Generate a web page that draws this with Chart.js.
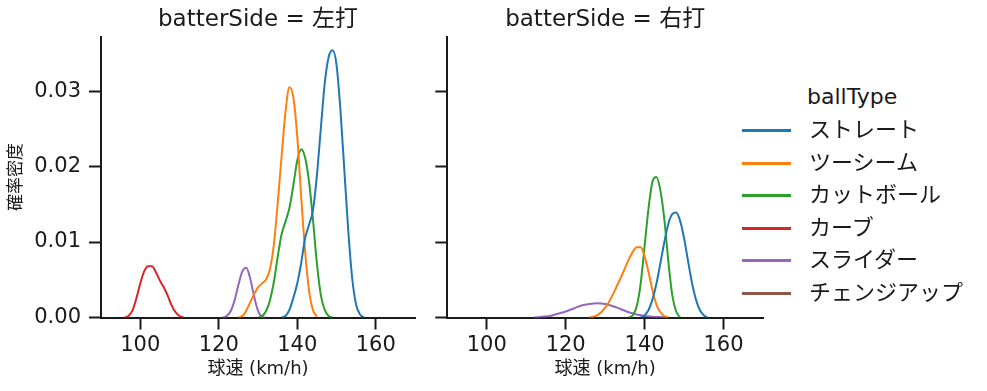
<!DOCTYPE html>
<html>
<head>
<meta charset="UTF-8">
<title>球速 確率密度</title>
<script src="https://cdn.jsdelivr.net/npm/chart.js"></script>
<style>
  body { margin: 0; background: #fff; font-family: 'DejaVu Sans', 'Noto Sans CJK JP', sans-serif; }
  #wrap { position: relative; width: 987px; height: 391px; overflow: hidden; }
  canvas { position: absolute; top: 0; }
  #leftChart { left: 0; }
  #rightChart { left: 425px; }
  #legend { position: absolute; left: 742px; top: 0; color: #1a1a1a; font-size: 22px; }
  #legend .ttl { position: absolute; left: 65px; top: 80px; line-height: 34px; white-space: nowrap; }
  #legend .row { position: absolute; left: 0; height: 30px; white-space: nowrap; }
  #legend .sw { position: absolute; left: 0; top: 14px; width: 49px; height: 3px; }
  #legend .lbl { position: absolute; left: 67px; top: 0; line-height: 30px; }
</style>
</head>
<body>
<div id="wrap">
  <canvas id="leftChart" width="425" height="391"></canvas>
  <canvas id="rightChart" width="345" height="391"></canvas>
  <div id="legend"></div>
</div>
<script>
// axis ticks
const xTicks = [100, 120, 140, 160];
const yTicks = [0, 0.01, 0.02, 0.03];

const ballTypes = ['ストレート', 'ツーシーム', 'カットボール', 'カーブ', 'スライダー', 'チェンジアップ'];
const ballColors = ['#1f77b4', '#ff7f0e', '#2ca02c', '#d62728', '#9467bd', '#8c564b'];

// batterSide = 左打
const lStraightX = [136,137,138,139,140,141,142,143,144,145,146,147,148,149,150,151,152,153,154,155,156,157];
const lStraightY = [0,0.0002,0.0010,0.0026,0.0045,0.0072,0.0105,0.0123,0.0142,0.0188,0.0250,0.0310,0.0345,0.0354,0.0335,0.0275,0.0195,0.0115,0.0052,0.0017,0.0004,0];
const lTwoSeamX = [125,126,127,128,129,130,131,132,133,134,135,136,137,138,139,140,141,142,143,144,145];
const lTwoSeamY = [0,0.0002,0.0009,0.0020,0.0031,0.0040,0.0045,0.0050,0.0063,0.0095,0.0150,0.0213,0.0272,0.0305,0.0292,0.0240,0.0160,0.0088,0.0036,0.0010,0.0001];
const lCutterX = [130,131,132,133,134,135,136,137,138,139,140,141,142,143,144,145,146,147,148,149];
const lCutterY = [0,0.0002,0.0008,0.0022,0.0046,0.0080,0.0110,0.0127,0.0145,0.0175,0.0208,0.0223,0.0212,0.0180,0.0130,0.0072,0.0030,0.0010,0.0002,0];
const lCurveX = [96,97,98,99,100,101,102,103,104,105,106,107,108,109,110,111];
const lCurveY = [0,0.0002,0.0009,0.0025,0.0045,0.0061,0.0068,0.0068,0.0060,0.0049,0.0040,0.0029,0.0016,0.0007,0.0002,0];
const lSliderX = [121,122,123,124,125,126,127,128,129,130,131,132];
const lSliderY = [0,0.0002,0.0008,0.0022,0.0043,0.0061,0.0066,0.0052,0.0028,0.0009,0.0001,0];

// batterSide = 右打
const rStraightX = [139,140,141,142,143,144,145,146,147,148,149,150,151,152,153,154,155,156];
const rStraightY = [0,0.0003,0.0010,0.0024,0.0045,0.0072,0.0100,0.0124,0.0137,0.0139,0.0128,0.0105,0.0075,0.0046,0.0024,0.0010,0.0003,0];
const rTwoSeamX = [126,127,128,129,130,131,132,133,134,135,136,137,138,139,140,141,142,143,144,145,146];
const rTwoSeamY = [0,0.0001,0.0003,0.0007,0.0013,0.0021,0.0031,0.0042,0.0053,0.0065,0.0077,0.0087,0.0093,0.0093,0.0081,0.0060,0.0036,0.0017,0.0007,0.0002,0];
const rCutterX = [136,137,138,139,140,141,142,143,144,145,146,147,148,149];
const rCutterY = [0,0.0003,0.0015,0.0045,0.0095,0.0145,0.0180,0.0186,0.0168,0.0130,0.0075,0.0030,0.0008,0];
const rSliderX = [112,114,116,118,120,122,124,126,128,130,132,134,136,138,140,142,144,146];
const rSliderY = [0,0.0001,0.0002,0.0005,0.0008,0.0012,0.0016,0.0018,0.0019,0.0018,0.0015,0.0011,0.0007,0.0004,0.0002,0.0001,0.00005,0];

const ink = '#1a1a1a';
Chart.defaults.font.family = "'DejaVu Sans', 'Noto Sans CJK JP', sans-serif";
Chart.defaults.color = ink;

function series(idx, xs, ys) {
  return {
    label: ballTypes[idx],
    data: xs.map((x, i) => ({ x: x, y: ys[i] })),
    borderColor: ballColors[idx],
    borderWidth: 2,
    pointRadius: 0,
    cubicInterpolationMode: 'monotone',
    fill: false
  };
}

function makePanel(id, title, datasets, leftAxis, yWidth, padRight) {
  new Chart(document.getElementById(id), {
    type: 'line',
    data: { datasets: datasets },
    options: {
      responsive: false,
      animation: false,
      layout: { padding: { top: 0, right: padRight, bottom: 0, left: 0 } },
      plugins: {
        legend: { display: false },
        tooltip: { enabled: false },
        title: {
          display: true,
          text: title,
          fullSize: false,
          font: { size: 23, weight: 'normal' },
          lineHeight: 1.2,
          padding: { top: 6, bottom: 3.1 }
        }
      },
      scales: {
        x: {
          type: 'linear',
          min: 90,
          max: 170,
          afterBuildTicks: s => { s.ticks = xTicks.map(v => ({ value: v })); },
          afterFit: s => { s.height = 73.5; },
          ticks: { font: { size: 21 }, padding: 3 },
          grid: { drawOnChartArea: false, drawTicks: true, tickLength: 12, tickWidth: 2, tickColor: ink },
          border: { display: true, color: ink, width: 2 },
          title: { display: true, text: '球速 (km/h)', font: { size: 18 }, padding: { top: 0, bottom: 11 } }
        },
        y: {
          min: 0,
          max: 0.0372,
          afterBuildTicks: s => { s.ticks = yTicks.map(v => ({ value: v })); },
          afterFit: s => { s.width = yWidth; },
          ticks: { display: leftAxis, font: { size: 21 }, padding: 8, callback: v => v.toFixed(2) },
          grid: { drawOnChartArea: false, drawTicks: true, tickLength: 12, tickWidth: 2, tickColor: ink },
          border: { display: true, color: ink, width: 2 },
          title: { display: leftAxis, text: '確率密度', font: { size: 17 }, padding: { top: 6, bottom: 0 } }
        }
      }
    }
  });
}

makePanel('leftChart', 'batterSide = 左打', [
  series(0, lStraightX, lStraightY),
  series(1, lTwoSeamX, lTwoSeamY),
  series(2, lCutterX, lCutterY),
  series(3, lCurveX, lCurveY),
  series(4, lSliderX, lSliderY)
], true, 101, 10);

makePanel('rightChart', 'batterSide = 右打', [
  series(0, rStraightX, rStraightY),
  series(1, rTwoSeamX, rTwoSeamY),
  series(2, rCutterX, rCutterY),
  series(4, rSliderX, rSliderY)
], false, 22.3, 7);

// legend
const legend = document.getElementById('legend');
const ttl = document.createElement('div');
ttl.className = 'ttl';
ttl.textContent = 'ballType';
legend.appendChild(ttl);
ballTypes.forEach((name, i) => {
  const row = document.createElement('div');
  row.className = 'row';
  row.style.top = (115 + i * 32.5) + 'px';
  const sw = document.createElement('div');
  sw.className = 'sw';
  sw.style.background = ballColors[i];
  const lbl = document.createElement('div');
  lbl.className = 'lbl';
  lbl.textContent = name;
  row.appendChild(sw);
  row.appendChild(lbl);
  legend.appendChild(row);
});
</script>
</body>
</html>
